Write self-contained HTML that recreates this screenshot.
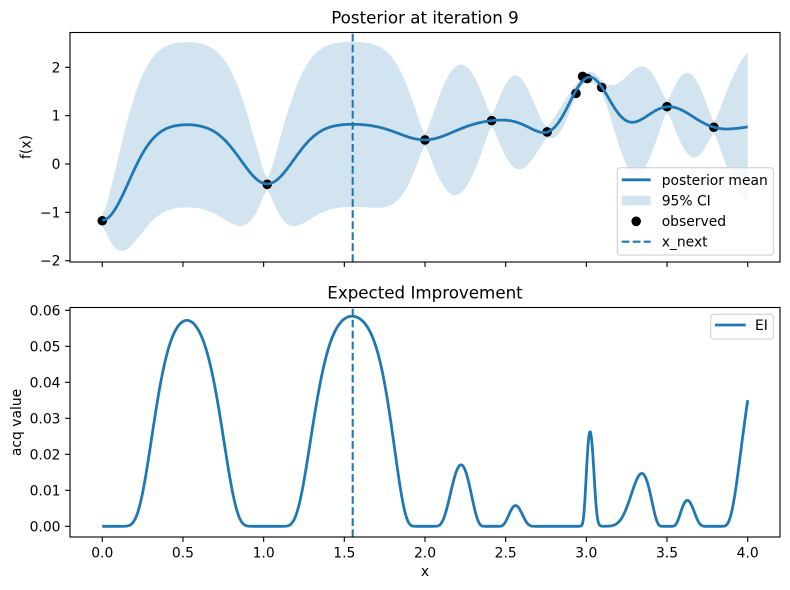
<!DOCTYPE html>
<html>
<head>
<meta charset="utf-8">
<style>
  html, body { margin:0; padding:0; background:#fff; }
  svg { display:block; }
  text { font-family: "DejaVu Sans", "Liberation Sans", sans-serif; fill:#000; }
</style>
</head>
<body>
<svg id="fig" width="790" height="590" viewBox="0 0 790 590" xmlns="http://www.w3.org/2000/svg">
  <rect x="0" y="0" width="790" height="590" fill="#fff"/>
  <defs>
    <clipPath id="c1"><rect x="70" y="32.5" width="710" height="229.5"/></clipPath>
    <clipPath id="c2"><rect x="70" y="307.5" width="710" height="229.5"/></clipPath>
  </defs>

  <!-- ===== TOP AXES ===== -->
  <g clip-path="url(#c1)">
    <path id="ci" d="" fill="#1f77b4" fill-opacity="0.2" stroke="none"/>
    <g id="obs" fill="#000"></g>
    <path id="mean" d="" fill="none" stroke="#1f77b4" stroke-width="2.78" stroke-linejoin="round" stroke-linecap="butt"/>
    <line x1="352.7" y1="262" x2="352.7" y2="32.5" stroke="#1f77b4" stroke-width="2.08" stroke-dasharray="7.7 3.33"/>
  </g>
  <rect x="70" y="32.5" width="710" height="229.5" fill="none" stroke="#000" stroke-width="1.11"/>

  <!-- top y ticks -->
  <g stroke="#000" stroke-width="1.11">
    <line x1="65.1" y1="260.7" x2="70" y2="260.7"/>
    <line x1="65.1" y1="212.35" x2="70" y2="212.35"/>
    <line x1="65.1" y1="164" x2="70" y2="164"/>
    <line x1="65.1" y1="115.65" x2="70" y2="115.65"/>
    <line x1="65.1" y1="67.3" x2="70" y2="67.3"/>
  </g>
  <g font-size="13.9" text-anchor="end">
    <text x="60.5" y="265.7">−2</text>
    <text x="60.5" y="217.35">−1</text>
    <text x="60.5" y="169">0</text>
    <text x="60.5" y="120.65">1</text>
    <text x="60.5" y="72.3">2</text>
  </g>
  <!-- top x ticks (no labels) -->
  <g stroke="#000" stroke-width="1.11">
    <line x1="102.27" y1="262" x2="102.27" y2="266.9"/>
    <line x1="182.95" y1="262" x2="182.95" y2="266.9"/>
    <line x1="263.63" y1="262" x2="263.63" y2="266.9"/>
    <line x1="344.31" y1="262" x2="344.31" y2="266.9"/>
    <line x1="424.99" y1="262" x2="424.99" y2="266.9"/>
    <line x1="505.67" y1="262" x2="505.67" y2="266.9"/>
    <line x1="586.35" y1="262" x2="586.35" y2="266.9"/>
    <line x1="667.03" y1="262" x2="667.03" y2="266.9"/>
    <line x1="747.71" y1="262" x2="747.71" y2="266.9"/>
  </g>
  <text x="425" y="23.5" font-size="16.7" text-anchor="middle">Posterior at iteration 9</text>
  <text transform="translate(30.5,147) rotate(-90)" font-size="13.9" text-anchor="middle">f(x)</text>

  <!-- top legend -->
  <rect x="617.3" y="167.7" width="156" height="87.3" rx="2.8" ry="2.8" fill="#fff" fill-opacity="0.8" stroke="#cccccc" stroke-width="1"/>
  <line x1="621.7" y1="179.8" x2="650.7" y2="179.8" stroke="#1f77b4" stroke-width="2.78"/>
  <rect x="621.7" y="195.7" width="29" height="9.6" fill="#1f77b4" fill-opacity="0.2"/>
  <circle cx="636.2" cy="221.3" r="4.8" fill="#000"/>
  <line x1="621.7" y1="241.7" x2="650.7" y2="241.7" stroke="#1f77b4" stroke-width="2.08" stroke-dasharray="7.7 3.33"/>
  <g font-size="13.9">
    <text x="661.7" y="184.8">posterior mean</text>
    <text x="661.7" y="205.3">95% CI</text>
    <text x="661.7" y="225.8">observed</text>
    <text x="661.7" y="246.3">x_next</text>
  </g>

  <!-- ===== BOTTOM AXES ===== -->
  <g clip-path="url(#c2)">
    <path id="ei" d="" fill="none" stroke="#1f77b4" stroke-width="2.78" stroke-linejoin="round"/>
    <line x1="352.7" y1="537" x2="352.7" y2="307.5" stroke="#1f77b4" stroke-width="2.08" stroke-dasharray="7.7 3.33"/>
  </g>
  <rect x="70" y="307.5" width="710" height="229.5" fill="none" stroke="#000" stroke-width="1.11"/>

  <g stroke="#000" stroke-width="1.11">
    <line x1="65.1" y1="526.3" x2="70" y2="526.3"/>
    <line x1="65.1" y1="490.3" x2="70" y2="490.3"/>
    <line x1="65.1" y1="454.3" x2="70" y2="454.3"/>
    <line x1="65.1" y1="418.3" x2="70" y2="418.3"/>
    <line x1="65.1" y1="382.3" x2="70" y2="382.3"/>
    <line x1="65.1" y1="346.3" x2="70" y2="346.3"/>
    <line x1="65.1" y1="310.3" x2="70" y2="310.3"/>
  </g>
  <g font-size="13.9" text-anchor="end">
    <text x="60.5" y="531.3">0.00</text>
    <text x="60.5" y="495.3">0.01</text>
    <text x="60.5" y="459.3">0.02</text>
    <text x="60.5" y="423.3">0.03</text>
    <text x="60.5" y="387.3">0.04</text>
    <text x="60.5" y="351.3">0.05</text>
    <text x="60.5" y="315.3">0.06</text>
  </g>
  <g stroke="#000" stroke-width="1.11">
    <line x1="102.27" y1="537" x2="102.27" y2="541.9"/>
    <line x1="182.95" y1="537" x2="182.95" y2="541.9"/>
    <line x1="263.63" y1="537" x2="263.63" y2="541.9"/>
    <line x1="344.31" y1="537" x2="344.31" y2="541.9"/>
    <line x1="424.99" y1="537" x2="424.99" y2="541.9"/>
    <line x1="505.67" y1="537" x2="505.67" y2="541.9"/>
    <line x1="586.35" y1="537" x2="586.35" y2="541.9"/>
    <line x1="667.03" y1="537" x2="667.03" y2="541.9"/>
    <line x1="747.71" y1="537" x2="747.71" y2="541.9"/>
  </g>
  <g font-size="13.9" text-anchor="middle">
    <text x="102.27" y="557.6">0.0</text>
    <text x="182.95" y="557.6">0.5</text>
    <text x="263.63" y="557.6">1.0</text>
    <text x="344.31" y="557.6">1.5</text>
    <text x="424.99" y="557.6">2.0</text>
    <text x="505.67" y="557.6">2.5</text>
    <text x="586.35" y="557.6">3.0</text>
    <text x="667.03" y="557.6">3.5</text>
    <text x="747.71" y="557.6">4.0</text>
  </g>
  <text x="425" y="576" font-size="13.9" text-anchor="middle">x</text>
  <text x="425" y="298.3" font-size="16.7" text-anchor="middle">Expected Improvement</text>
  <text transform="translate(21,422.5) rotate(-90)" font-size="13.9" text-anchor="middle">acq value</text>

  <!-- bottom legend -->
  <rect x="710.7" y="314.3" width="62.6" height="24.7" rx="2.8" ry="2.8" fill="#fff" fill-opacity="0.8" stroke="#cccccc" stroke-width="1"/>
  <line x1="715" y1="325" x2="745.7" y2="325" stroke="#1f77b4" stroke-width="2.78"/>
  <text x="755" y="330" font-size="13.9">EI</text>
</svg>

<script>
(function(){
  var xs=[0,1.022,2.0,2.413,2.757,2.936,2.977,3.006,3.095,3.5,3.79];
  var ys=[-1.174,-0.42,0.497,0.897,0.663,1.46,1.812,1.767,1.585,1.186,0.76];
  var m=0.835, s0=0.8715, l=0.163, nv=0.005, fp=1.79;
  var n=xs.length,i,j,k;
  function kf(a,b){var d=a-b;return s0*s0*Math.exp(-d*d/(2*l*l));}
  var K=[];
  for(i=0;i<n;i++){K.push([]);for(j=0;j<n;j++)K[i].push(kf(xs[i],xs[j])+(i==j?nv:0));}
  var L=[];for(i=0;i<n;i++){var row=[];for(j=0;j<n;j++)row.push(0);L.push(row);}
  for(i=0;i<n;i++){for(j=0;j<=i;j++){var s=K[i][j];for(k=0;k<j;k++)s-=L[i][k]*L[j][k];
    if(i==j)L[i][i]=Math.sqrt(Math.max(s,1e-12));else L[i][j]=s/L[j][j];}}
  function fwd(b){var x=[];for(var i=0;i<n;i++){var s=b[i];for(var k=0;k<i;k++)s-=L[i][k]*x[k];x.push(s/L[i][i]);}return x;}
  function bwd(b){var x=new Array(n);for(var i=n-1;i>=0;i--){var s=b[i];for(var k=i+1;k<n;k++)s-=L[k][i]*x[k];x[i]=s/L[i][i];}return x;}
  var r=[];for(i=0;i<n;i++)r.push(ys[i]-m);
  var alpha=bwd(fwd(r));
  function erf(x){var sg=x<0?-1:1;x=Math.abs(x);var t=1/(1+0.3275911*x);
    var y=1-(((((1.061405429*t-1.453152027)*t)+1.421413741)*t-0.284496736)*t+0.254829592)*t*Math.exp(-x*x);return sg*y;}
  function Phi(z){return 0.5*(1+erf(z/Math.SQRT2));}
  function phi(z){return Math.exp(-0.5*z*z)/Math.sqrt(2*Math.PI);}
  function X(x){return 102.27+161.36*x;}
  function YT(v){return 164.0-48.35*v;}
  function YB(v){return 526.3-3600*v;}
  var N=800, mp=[], up=[], lo=[], ep=[];
  for(var q=0;q<=N;q++){
    var x=4*q/N, kv=[];
    for(i=0;i<n;i++)kv.push(kf(x,xs[i]));
    var mu=m;for(i=0;i<n;i++)mu+=kv[i]*alpha[i];
    var v=fwd(kv),vv=0;for(i=0;i<n;i++)vv+=v[i]*v[i];
    var sd=Math.sqrt(Math.max(s0*s0-vv,1e-12));
    var px=X(x).toFixed(2);
    mp.push(px+","+YT(mu).toFixed(2));
    up.push(px+","+YT(mu+1.96*sd).toFixed(2));
    lo.push(px+","+YT(mu-1.96*sd).toFixed(2));
    var d=mu-fp, z=d/sd, ei=d*Phi(z)+sd*phi(z);
    if(ei<0)ei=0;
    ep.push(px+","+YB(ei).toFixed(2));
  }
  document.getElementById("mean").setAttribute("d","M"+mp.join(" L"));
  document.getElementById("ci").setAttribute("d","M"+up.join(" L")+" L"+lo.reverse().join(" L")+" Z");
  document.getElementById("ei").setAttribute("d","M"+ep.join(" L"));
  var g=document.getElementById("obs"),ns="http://www.w3.org/2000/svg";
  for(i=0;i<n;i++){var c=document.createElementNS(ns,"circle");
    c.setAttribute("cx",X(xs[i]).toFixed(2));c.setAttribute("cy",YT(ys[i]).toFixed(2));
    c.setAttribute("r","4.8");g.appendChild(c);}
})();
</script>
</body>
</html>
